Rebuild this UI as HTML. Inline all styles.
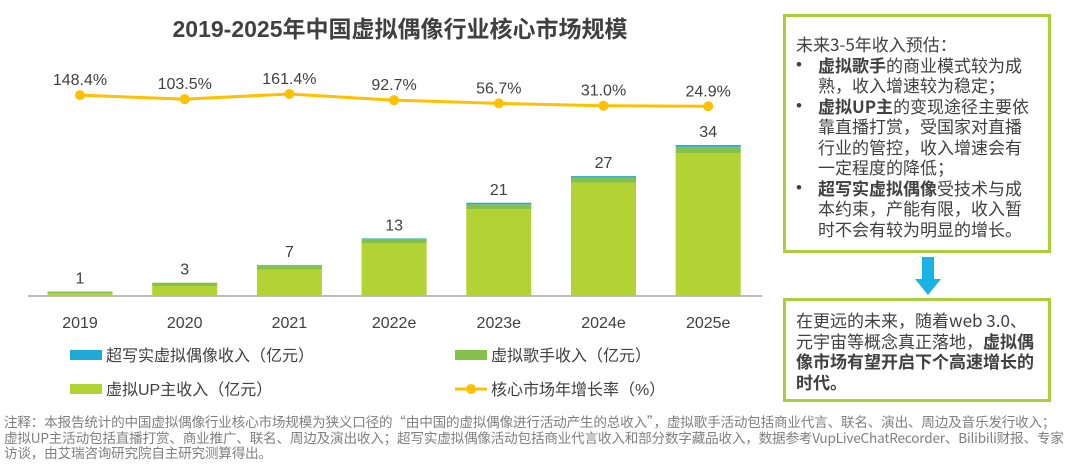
<!DOCTYPE html>
<html><head><meta charset="utf-8">
<style>
body{margin:0;width:1080px;height:464px;background:#fff;overflow:hidden;font-family:"Liberation Sans","Noto Sans CJK SC",sans-serif;color:#404040;position:relative}
.box{position:absolute;border:3px solid #a9cf3b;background:#fff;box-sizing:border-box;font-family:"Noto Sans CJK SC",sans-serif;font-size:17px;line-height:20.5px;color:#404040;white-space:nowrap}
.bl{display:flex}.bl span:first-child{width:22px;flex:none;font-family:"Liberation Sans",sans-serif}
.note{position:absolute;left:4px;top:414px;font-family:"Noto Sans CJK SC",sans-serif;font-size:13.6px;line-height:15.5px;color:#7f7f7f;white-space:nowrap;letter-spacing:-0.2px}
b{font-weight:bold}
</style></head><body>
<svg id="chart" width="770" height="410" style="position:absolute;left:0;top:0" font-family="Liberation Sans, Noto Sans CJK SC, sans-serif"></svg>
<div class="box" style="left:783px;top:14px;width:268px;height:239px;padding:17px 6px 0 10px">
<div>未来3-5年收入预估：</div>
<div class="bl"><span>•</span><span><b>虚拟歌手</b>的商业模式较为成<br>熟，收入增速较为稳定；</span></div>
<div class="bl"><span>•</span><span><b>虚拟UP主</b>的变现途径主要依<br>靠直播打赏，受国家对直播<br>行业的管控，收入增速会有<br>一定程度的降低；</span></div>
<div class="bl"><span>•</span><span><b>超写实虚拟偶像</b>受技术与成<br>本约束，产能有限，收入暂<br>时不会有较为明显的增长。</span></div>
</div>
<svg width="30" height="40" style="position:absolute;left:913px;top:257px"><rect x="9" y="0" width="12" height="24" fill="#1bb3e6"/><polygon points="2,22 28,22 15,38" fill="#1bb3e6"/></svg>
<div class="box" style="left:783px;top:298px;width:268px;height:104px;padding:9px 6px 0 10px">在更远的未来，随着web 3.0、<br>元宇宙等概念真正落地，<b>虚拟偶<br>像市场有望开启下个高速增长的<br>时代。</b></div>
<div class="note">注释：本报告统计的中国虚拟偶像行业核心市场规模为狭义口径的“由中国的虚拟偶像进行活动产生的总收入”，虚拟歌手活动包括商业代言、联名、演出、周边及音乐发行收入；<br>虚拟UP主活动包括直播打赏、商业推广、联名、周边及演出收入；超写实虚拟偶像活动包括商业代言收入和部分数字藏品收入，数据参考VupLiveChatRecorder、Bilibili财报、专家<br>访谈，由艾瑞咨询研究院自主研究测算得出。</div>
<script>
const categories=["2019","2020","2021","2022e","2023e","2024e","2025e"];
const upValues=[0.6,2.25,5.95,11.85,19.55,25.55,32.2];
const singerValues=[0.4,0.75,1.0,1.05,1.1,1.1,1.4];
const realValues=[0.0,0.0,0.05,0.1,0.35,0.35,0.4];
const totalLabels=["1","3","7","13","21","27","34"];
const growthValues=[148.4,103.5,161.4,92.7,56.7,31.0,24.9];
const growthLabels=["148.4%","103.5%","161.4%","92.7%","56.7%","31.0%","24.9%"];
const svg=document.getElementById('chart');
const NS='http://www.w3.org/2000/svg';
function mk(t,a){const e=document.createElementNS(NS,t);for(const k in a)e.setAttribute(k,a[k]);svg.appendChild(e);return e;}
const base=296,unit=4.44;
const xC=i=>80+i*104.7;
const yV=v=>base-v*unit;
const yG=g=>108.5-g*0.09;
let t=mk('text',{x:400,y:37,'text-anchor':'middle','font-size':23,'font-weight':'bold',fill:'#404040'});t.textContent='2019-2025年中国虚拟偶像行业核心市场规模';


let ax=mk('line',{x1:28,x2:762,y1:base,y2:base,stroke:'#a6a6a6','stroke-width':1.5});


categories.forEach((c,i)=>{
 const w=65,x=xC(i)-w/2;
 let y0=base;
 [[upValues[i],'#b3d334','bar-up'],[singerValues[i],'#85c04a','bar-singer'],[realValues[i],'#1fa9d8','bar-realistic']].forEach(([v,col,n])=>{
  const h=v*unit;const r=mk('rect',{x:x,y:y0-h,width:w,height:h,fill:col});
  
  
  y0-=h;});
 const tot=upValues[i]+singerValues[i]+realValues[i];
 let l=mk('text',{x:xC(i),y:yV(tot)-8,'text-anchor':'middle','font-size':16,fill:'#404040'});l.textContent=totalLabels[i];
 
 
 let xl=mk('text',{x:xC(i),y:328,'text-anchor':'middle','font-size':16,fill:'#404040'});xl.textContent=c;
 
 
});
const pts=growthValues.map((g,i)=>xC(i)+','+yG(g)).join(' ');
let pl=mk('polyline',{points:pts,fill:'none',stroke:'#ffc000','stroke-width':3});


growthValues.forEach((g,i)=>{
 let c=mk('circle',{cx:xC(i),cy:yG(g),r:5,fill:'#ffc000'});
 
 
 let l=mk('text',{x:xC(i),y:yG(g)-10,'text-anchor':'middle','font-size':16,fill:'#404040'});l.textContent=growthLabels[i];
 
 
});
const leg=[[70,356,'rect','#1fa9d8','超写实虚拟偶像收入（亿元）'],[455,356,'rect','#85c04a','虚拟歌手收入（亿元）'],[70,390,'rect','#b3d334','虚拟UP主收入（亿元）'],[455,390,'line','#ffc000','核心市场年增长率（%）']];
leg.forEach(([x,y,k,col,txt])=>{
 if(k==='rect'){let r=mk('rect',{x:x,y:y-6,width:32,height:10,fill:col});}
 else{mk('line',{x1:x,x2:x+32,y1:y-1,y2:y-1,stroke:col,'stroke-width':3});let c=mk('circle',{cx:x+16,cy:y-1,r:5,fill:col});}
 let l=mk('text',{x:x+36,y:y+5,'font-size':16,fill:'#404040'});l.textContent=txt;
 
 
});
</script>
</body></html>
